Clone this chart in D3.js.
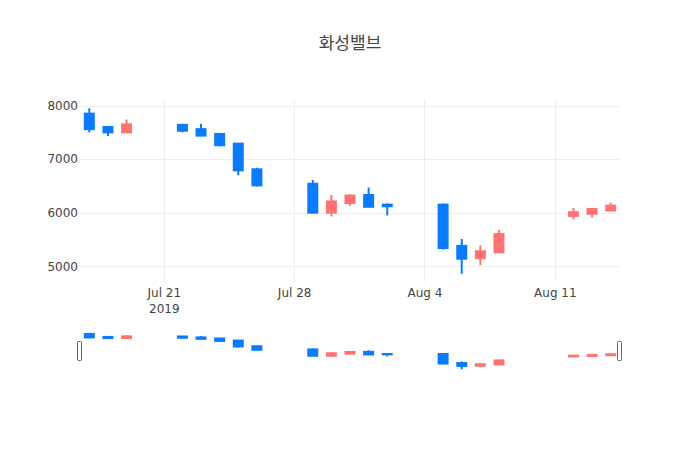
<!DOCTYPE html>
<html><head><meta charset="utf-8">
<script src="https://d3js.org/d3.v7.min.js"></script>
<style>body{margin:0;background:#fff}svg{display:block;font-family:"DejaVu Sans",verdana,arial,"Noto Sans CJK KR",sans-serif}</style>
</head><body><svg id="c" width="700" height="450"></svg>
<script>
const title = "화성밸브";
const dates = ["2019-07-17","2019-07-18","2019-07-19","2019-07-22","2019-07-23","2019-07-24","2019-07-25","2019-07-26",
"2019-07-29","2019-07-30","2019-07-31","2019-08-01","2019-08-02","2019-08-05","2019-08-06","2019-08-07","2019-08-08",
"2019-08-12","2019-08-13","2019-08-14"];
const open  = [7850,7600,7500,7640,7560,7470,7290,6810,6540,6000,6180,6330,6150,6150,5380,5150,5260,5940,5980,6040];
const high  = [7950,7610,7740,7660,7660,7470,7290,6840,6610,6330,6340,6470,6170,6170,5510,5390,5680,6090,6090,6190];
const low   = [7500,7430,7500,7500,7430,7240,6700,6490,6000,5930,6130,6110,5950,5310,4860,5020,5260,5880,5910,6040];
const close = [7560,7500,7650,7530,7440,7260,6790,6510,6000,6210,6320,6110,6120,5340,5140,5280,5600,6010,6070,6130];
const yTicks = [5000,6000,7000,8000];
const xTicks = ["2019-07-21","2019-07-28","2019-08-04","2019-08-11"];
const incColor = "#FF7373", decColor = "#0A7BFF";

const parse = d3.timeParse("%Y-%m-%d");
const data = dates.map((d,i)=>({date:parse(d),o:open[i],h:high[i],l:low[i],c:close[i]}));
const svg = d3.select("#c");
const L=80,R=620,T=100,B=282, sT=331, sB=371;
const d0 = d3.timeHour.offset(parse(dates[0]), -12);
const d1 = d3.timeHour.offset(parse(dates[dates.length-1]), 12);
const x = d3.scaleTime().domain([d0,d1]).range([L,R]);
const lo = d3.min(low), hi = d3.max(high), pad=(hi-lo)*0.05;
const y = d3.scaleLinear().domain([lo-pad,hi+pad]).range([B,T]);
const ys = d3.scaleLinear().domain([lo-pad,hi+pad]).range([sB,sT]);

// title
svg.append("text").attr("x",350).attr("y",49).attr("text-anchor","middle")
  .attr("font-size",17).attr("fill","#444").text(title);

// grid
const g = svg.append("g");
g.selectAll(".hg").data(yTicks).join("line").attr("x1",L).attr("x2",R)
  .attr("y1",d=>Math.round(y(d))+0.5).attr("y2",d=>Math.round(y(d))+0.5).attr("stroke","#eee");
g.selectAll(".vg").data(xTicks).join("line").attr("y1",T).attr("y2",B)
  .attr("x1",d=>Math.round(x(parse(d)))+0.5).attr("x2",d=>Math.round(x(parse(d)))+0.5).attr("stroke","#eee");

// axes labels
const ya = d3.axisLeft(y).tickValues(yTicks).tickSize(0).tickPadding(2).tickFormat(d3.format("d"));
const yg = svg.append("g").attr("transform",`translate(${L},0)`).call(ya).attr("font-family",null).attr("font-size",null);
yg.select(".domain").remove();
yg.selectAll("text").attr("font-size",12).attr("fill","#444");

const xa = d3.axisBottom(x).tickValues(xTicks.map(parse)).tickSize(0).tickPadding(6).tickFormat(d3.timeFormat("%b %-d"));
const xg = svg.append("g").attr("transform",`translate(0,${B})`).call(xa).attr("font-family",null).attr("font-size",null);
xg.select(".domain").remove();
xg.selectAll("text").attr("font-size",12).attr("fill","#444");
xg.selectAll(".tick").filter((d,i)=>i===0).append("text").attr("y",22).attr("dy","0.71em")
  .attr("text-anchor","middle").attr("font-size",12).attr("fill","#444").text("2019");

function candles(sel, yy){
  const cg = sel.selectAll("g.cd").data(data).join("g").attr("class","cd");
  cg.append("line").attr("x1",d=>x(d.date)).attr("x2",d=>x(d.date))
    .attr("y1",d=>yy(d.h)).attr("y2",d=>yy(d.l))
    .attr("stroke",d=>d.c>=d.o?incColor:decColor).attr("stroke-width",2);
  cg.append("rect").attr("x",d=>x(d.date)-4.5).attr("width",9)
    .attr("y",d=>yy(Math.max(d.o,d.c))).attr("height",d=>Math.max(0.01,yy(Math.min(d.o,d.c))-yy(Math.max(d.o,d.c))))
    .attr("fill",d=>d.c>=d.o?incColor:decColor)
    .attr("stroke",d=>d.c>=d.o?incColor:decColor).attr("stroke-width",2);
}
candles(svg.append("g"), y);

// range slider
const sg = svg.append("g");
sg.append("rect").attr("x",L).attr("y",sT).attr("width",R-L).attr("height",sB-sT).attr("fill","#fff");
candles(sg.append("g"), ys);
const hh = Math.round((sB-sT)/2), hy = sT + Math.round((sB-sT)/4);
[L,R].forEach(px=>{
  sg.append("rect").attr("x",px-2.5).attr("y",hy+0.5).attr("width",4).attr("height",hh-1)
    .attr("rx",1).attr("fill","#fff").attr("stroke","#666").attr("stroke-width",1);
});
</script></body></html>
